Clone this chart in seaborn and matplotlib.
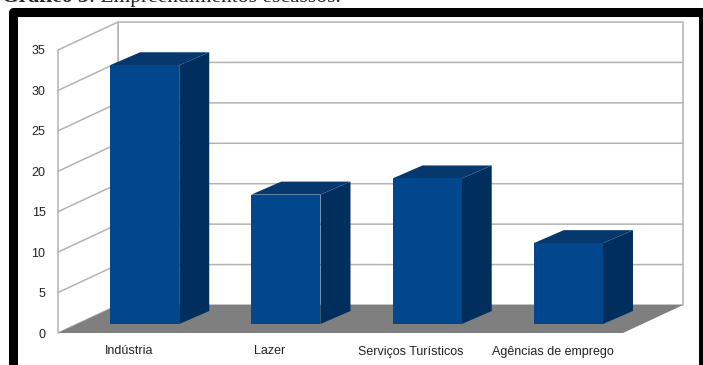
import matplotlib
matplotlib.use("Agg")
import matplotlib.pyplot as plt
import seaborn as sns
import numpy as np
from matplotlib.patches import Polygon, Rectangle
from matplotlib.transforms import offset_copy, IdentityTransform

# ---- data ----
categories = ["Indústria", "Lazer", "Serviços Turísticos", "Agências de emprego"]
values = [32, 16, 18, 10]
yticks = [0, 5, 10, 15, 20, 25, 30, 35]
title_bold = "Gráfico 5"
title_rest = ": Empreendimentos escassos."

W, H = 703, 365
sns.set_style("white")
plt.rcParams["font.family"] = ["Liberation Sans", "DejaVu Sans"]

fig = plt.figure(figsize=(W / 100, H / 100), dpi=100)
ax = fig.add_axes([58 / W, (H - 333) / H, 565 / W, 283 / H])
ax.patch.set_alpha(0)

front_col = "#00478e"
side_col = "#002f5e"
top_col = "#06386e"

sns.barplot(x=categories, y=values, color=front_col, width=0.49, saturation=1,
            ax=ax, zorder=3)
bars = list(ax.patches)
ax.set_xlim(-0.5, len(categories) - 0.5)
ax.set_ylim(yticks[0], yticks[-1])
ax.set_yticks(yticks)
ax.set_xlabel("")
ax.set_ylabel("")
for s in ax.spines.values():
    s.set_visible(False)
ax.tick_params(axis="y", length=0, pad=9, labelsize=9, labelcolor="#222222")
ax.tick_params(axis="x", length=0, pad=9, labelsize=9, labelcolor="#222222")

# depth geometry (pixels)
DX, DY = 60, 28          # total depth of the 3D box
FX, FY = 16, 9           # bar front offset
BX, BY = 30, 13          # bar depth

T = ax.transData
def P(x, y, ox=0, oy=0):
    px, py = T.transform((x, y))
    return (px + ox, py + oy)

x0, x1 = ax.get_xlim()
y0, y1 = ax.get_ylim()
grid_c = "#b3b3b3"
idt = IdentityTransform()

# back wall
ax.add_patch(Polygon([P(x0, y0, DX, DY), P(x1, y0, DX, DY), P(x1, y1, DX, DY), P(x0, y1, DX, DY)],
                     closed=True, fc="white", ec=grid_c, lw=1.1, transform=idt,
                     clip_on=False, zorder=0.5))
# left wall
ax.add_patch(Polygon([P(x0, y0), P(x0, y0, DX, DY), P(x0, y1, DX, DY), P(x0, y1)],
                     closed=True, fc="white", ec=grid_c, lw=1.1, transform=idt,
                     clip_on=False, zorder=0.5))
# gridlines
for t in yticks[1:-1]:
    a, b = P(x0, t), P(x0, t, DX, DY)
    c = P(x1, t, DX, DY)
    ax.add_line(plt.Line2D([a[0], b[0], c[0]], [a[1], b[1], c[1]], color=grid_c,
                           lw=1.1, transform=idt, clip_on=False, zorder=0.6))
# floor
ax.add_patch(Polygon([P(x0, y0), P(x1, y0), P(x1, y0, DX, DY), P(x0, y0, DX, DY)],
                     closed=True, fc="#7f7f7f", ec="none", transform=idt,
                     clip_on=False, zorder=0.7))

# 3D bars
off_T = offset_copy(ax.transData, fig=fig, x=FX, y=FY, units="dots")
for bar in bars:
    bx0 = bar.get_x()
    bx1 = bx0 + bar.get_width()
    h = bar.get_height()
    bar.set_transform(off_T)
    bar.set_edgecolor("none")
    bar.set_clip_on(False)
    bar.set_zorder(3)
    side = [P(bx1, 0, FX, FY), P(bx1, 0, FX + BX, FY + BY),
            P(bx1, h, FX + BX, FY + BY), P(bx1, h, FX, FY)]
    top = [P(bx0, h, FX, FY), P(bx1, h, FX, FY),
           P(bx1, h, FX + BX, FY + BY), P(bx0, h, FX + BX, FY + BY)]
    ax.add_patch(Polygon(side, closed=True, fc=side_col, ec="none", transform=idt,
                         clip_on=False, zorder=2.9))
    ax.add_patch(Polygon(top, closed=True, fc=top_col, ec="none", transform=idt,
                         clip_on=False, zorder=2.9))

# frame
fig.add_artist(Rectangle((13, -3), 690, 356, fill=False, ec="black", lw=6.5,
                         transform=idt, joinstyle="round"))

# title (partially cut off at top, as in the reference)
t1 = fig.text(2 / W, (H - 7) / H, title_bold, fontsize=15.5, fontweight="bold",
              family=["Liberation Serif", "DejaVu Serif"], va="bottom", ha="left")
ax.annotate(title_rest, xy=(1, 0), xycoords=t1, fontsize=15.5,
            family=["Liberation Serif", "DejaVu Serif"], va="bottom", ha="left",
            annotation_clip=False)

fig.savefig("out.png", dpi=100)
